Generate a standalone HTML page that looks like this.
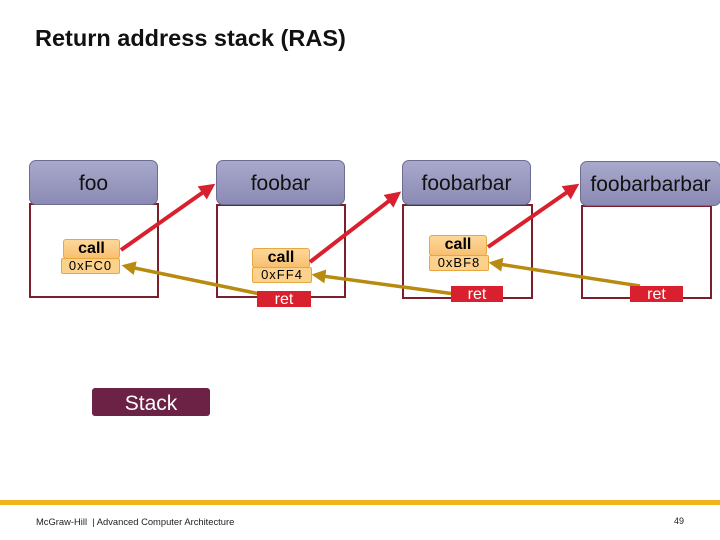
<!DOCTYPE html>
<html><head><style>
body{margin:0;width:720px;height:540px;background:#fff;position:relative;overflow:hidden;font-family:"Liberation Sans",sans-serif}
.a{position:absolute;box-sizing:border-box}
.h{background:linear-gradient(#a9a9cc,#8a8ab4);border:1px solid #6d6d93;border-radius:7px;font-size:21px;text-align:center;color:#111}
.b{border:2px solid #7a1f2b}
.c{background:linear-gradient(#fdd89a,#f8c070);border:1px solid #e8a840;border-radius:3px;font-weight:bold;font-size:16px;text-align:center;line-height:18px}
.x{background:#fbd18b;border:1px solid #e8a840;border-radius:2px;font-size:13px;text-align:center;letter-spacing:1px;line-height:14px}
.r{background:#d8202e;color:#fff;font-size:16px;text-align:center;line-height:17px}
</style></head><body>
<div class="a" style="left:35px;top:25px;font-size:23.5px;font-weight:bold;color:#111;white-space:nowrap">Return address stack (RAS)</div>

<div class="a b" style="left:29px;top:203px;width:130px;height:95px"></div>
<div class="a h" style="left:29px;top:160px;width:129px;height:45px;line-height:45px">foo</div>
<div class="a c" style="left:63px;top:239px;width:57px;height:20px">call</div>
<div class="a x" style="left:61px;top:258px;width:59px;height:16px">0xFC0</div>

<div class="a b" style="left:216px;top:204px;width:130px;height:94px"></div>
<div class="a h" style="left:216px;top:160px;width:129px;height:45px;line-height:45px">foobar</div>
<div class="a c" style="left:252px;top:248px;width:58px;height:20px">call</div>
<div class="a x" style="left:252px;top:267px;width:60px;height:16px">0xFF4</div>

<div class="a b" style="left:402px;top:204px;width:131px;height:95px"></div>
<div class="a h" style="left:402px;top:160px;width:129px;height:45px;line-height:45px">foobarbar</div>
<div class="a c" style="left:429px;top:235px;width:58px;height:21px">call</div>
<div class="a x" style="left:429px;top:255px;width:60px;height:16px">0xBF8</div>

<div class="a b" style="left:581px;top:205px;width:131px;height:94px"></div>
<div class="a h" style="left:580px;top:161px;width:141px;height:45px;line-height:45px;white-space:nowrap">foobarbarbar</div>

<svg class="a" style="left:0;top:0" width="720" height="540">
<defs>
<marker id="mr" markerWidth="4" markerHeight="4" refX="3" refY="2" orient="auto"><path d="M0,0L4,2L0,4z" fill="#d8202e"/></marker>
<marker id="mg" markerWidth="4" markerHeight="4" refX="3" refY="2" orient="auto"><path d="M0,0L4,2L0,4z" fill="#b88a10"/></marker>
</defs>
<g stroke="#d8202e" stroke-width="4" marker-end="url(#mr)">
<line x1="121" y1="250" x2="212" y2="186"/>
<line x1="310" y1="262" x2="398" y2="194"/>
<line x1="488" y1="247" x2="576" y2="186"/>
</g>
<g stroke="#b88a10" stroke-width="3.5" marker-end="url(#mg)">
<line x1="260" y1="294" x2="125" y2="266"/>
<line x1="455" y1="294" x2="315" y2="275"/>
<line x1="640" y1="286" x2="492" y2="263"/>
</g>
</svg>

<div class="a r" style="left:257px;top:291px;width:54px;height:16px">ret</div>
<div class="a r" style="left:451px;top:286px;width:52px;height:16px">ret</div>
<div class="a r" style="left:630px;top:286px;width:53px;height:16px">ret</div>

<div class="a" style="left:92px;top:388px;width:118px;height:28px;background:#6b2244;border-radius:3px;color:#fff;font-size:21px;text-align:center;line-height:31px">Stack</div>

<div class="a" style="left:0;top:500px;width:720px;height:5px;background:#f0b41c"></div>
<div class="a" style="left:36px;top:516px;font-size:9.4px;color:#222;white-space:nowrap">McGraw-Hill &nbsp;| Advanced Computer Architecture</div>
<div class="a" style="left:674px;top:516px;font-size:9px;color:#222">49</div>
</body></html>
